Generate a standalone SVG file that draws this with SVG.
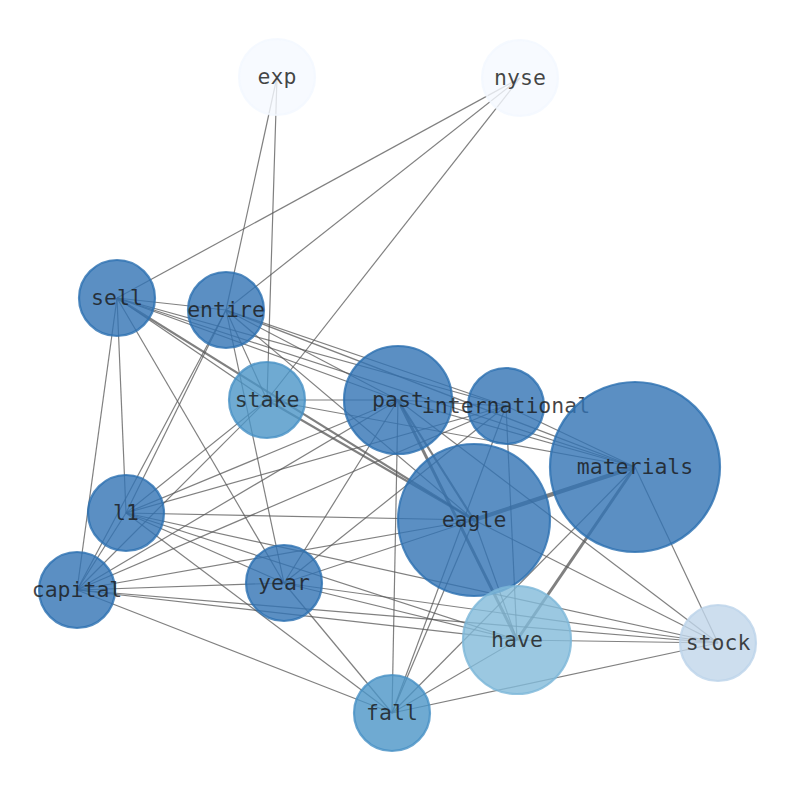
<svg xmlns="http://www.w3.org/2000/svg" width="794" height="790" viewBox="0 0 794 790">
<style>
.e{stroke:#555;stroke-opacity:0.75;stroke-width:1.2;fill:none}
.w2{stroke-width:2.2}
.w3{stroke-width:3}
.w4{stroke-width:4.2}
.n circle{stroke-width:2.2;fill-opacity:0.8;stroke-opacity:0.8}
.dk{fill:#3273b4;stroke:#2a6fb0}
.md{fill:#4b95c7;stroke:#4690c4}
.lt{fill:#82bad9;stroke:#7cb6d8}
.vl{fill:#c1d6ea;stroke:#bcd3ea}
.xl{fill:#f5f9ff;stroke:#f3f8ff}
text{font-family:"DejaVu Sans Mono","Liberation Mono",monospace;font-size:21.5px;fill:#1a1a1a;fill-opacity:0.82;text-anchor:middle;dominant-baseline:central}
</style>
<rect width="794" height="790" fill="#fff"/>
<g id="edges">
<line class="e" x1="277" y1="77" x2="226" y2="310"/>
<line class="e" x1="277" y1="77" x2="267" y2="400"/>
<line class="e" x1="520" y1="78" x2="117" y2="298"/>
<line class="e" x1="520" y1="78" x2="226" y2="310"/>
<line class="e" x1="520" y1="78" x2="267" y2="400"/>
<line class="e" x1="117" y1="298" x2="226" y2="310"/>
<line class="e" x1="117" y1="298" x2="267" y2="400"/>
<line class="e" x1="117" y1="298" x2="398" y2="400"/>
<line class="e" x1="117" y1="298" x2="506" y2="406"/>
<line class="e" x1="117" y1="298" x2="635" y2="467"/>
<line class="e w2" x1="117" y1="298" x2="474" y2="520"/>
<line class="e" x1="117" y1="298" x2="126" y2="513"/>
<line class="e" x1="117" y1="298" x2="77" y2="590"/>
<line class="e" x1="117" y1="298" x2="284" y2="583"/>
<line class="e" x1="226" y1="310" x2="267" y2="400"/>
<line class="e" x1="226" y1="310" x2="398" y2="400"/>
<line class="e" x1="226" y1="310" x2="506" y2="406"/>
<line class="e" x1="226" y1="310" x2="635" y2="467"/>
<line class="e" x1="226" y1="310" x2="474" y2="520"/>
<line class="e" x1="226" y1="310" x2="126" y2="513"/>
<line class="e" x1="226" y1="310" x2="77" y2="590"/>
<line class="e" x1="226" y1="310" x2="284" y2="583"/>
<line class="e" x1="267" y1="400" x2="398" y2="400"/>
<line class="e w2" x1="267" y1="400" x2="474" y2="520"/>
<line class="e" x1="267" y1="400" x2="126" y2="513"/>
<line class="e" x1="267" y1="400" x2="77" y2="590"/>
<line class="e" x1="267" y1="400" x2="635" y2="467"/>
<line class="e" x1="398" y1="400" x2="506" y2="406"/>
<line class="e w2" x1="398" y1="400" x2="474" y2="520"/>
<line class="e w3" x1="398" y1="400" x2="517" y2="640"/>
<line class="e" x1="398" y1="400" x2="635" y2="467"/>
<line class="e" x1="398" y1="400" x2="126" y2="513"/>
<line class="e" x1="398" y1="400" x2="77" y2="590"/>
<line class="e" x1="398" y1="400" x2="284" y2="583"/>
<line class="e" x1="398" y1="400" x2="392" y2="713"/>
<line class="e" x1="398" y1="400" x2="718" y2="643"/>
<line class="e" x1="506" y1="406" x2="635" y2="467"/>
<line class="e" x1="506" y1="406" x2="126" y2="513"/>
<line class="e" x1="506" y1="406" x2="77" y2="590"/>
<line class="e" x1="506" y1="406" x2="284" y2="583"/>
<line class="e" x1="506" y1="406" x2="392" y2="713"/>
<line class="e" x1="506" y1="406" x2="517" y2="640"/>
<line class="e w4" x1="635" y1="467" x2="474" y2="520"/>
<line class="e w3" x1="635" y1="467" x2="517" y2="640"/>
<line class="e" x1="635" y1="467" x2="718" y2="643"/>
<line class="e" x1="635" y1="467" x2="392" y2="713"/>
<line class="e" x1="474" y1="520" x2="126" y2="513"/>
<line class="e" x1="474" y1="520" x2="77" y2="590"/>
<line class="e" x1="474" y1="520" x2="284" y2="583"/>
<line class="e" x1="474" y1="520" x2="392" y2="713"/>
<line class="e" x1="474" y1="520" x2="718" y2="643"/>
<line class="e" x1="474" y1="520" x2="517" y2="640"/>
<line class="e" x1="126" y1="513" x2="77" y2="590"/>
<line class="e" x1="126" y1="513" x2="284" y2="583"/>
<line class="e" x1="126" y1="513" x2="517" y2="640"/>
<line class="e" x1="126" y1="513" x2="718" y2="643"/>
<line class="e" x1="126" y1="513" x2="392" y2="713"/>
<line class="e" x1="77" y1="590" x2="284" y2="583"/>
<line class="e" x1="77" y1="590" x2="517" y2="640"/>
<line class="e" x1="77" y1="590" x2="718" y2="643"/>
<line class="e" x1="77" y1="590" x2="392" y2="713"/>
<line class="e" x1="284" y1="583" x2="517" y2="640"/>
<line class="e" x1="284" y1="583" x2="718" y2="643"/>
<line class="e" x1="284" y1="583" x2="392" y2="713"/>
<line class="e" x1="517" y1="640" x2="718" y2="643"/>
<line class="e" x1="517" y1="640" x2="392" y2="713"/>
<line class="e" x1="718" y1="643" x2="392" y2="713"/>
</g>
<g id="node-exp" class="n"><circle class="xl" cx="277" cy="77" r="38"/><text x="277" y="76">exp</text></g>
<g id="node-nyse" class="n"><circle class="xl" cx="520" cy="78" r="38"/><text x="520" y="77">nyse</text></g>
<g id="node-sell" class="n"><circle class="dk" cx="117" cy="298" r="38"/><text x="117" y="297">sell</text></g>
<g id="node-entire" class="n"><circle class="dk" cx="226" cy="310" r="38"/><text x="226" y="309">entire</text></g>
<g id="node-stake" class="n"><circle class="md" cx="267" cy="400" r="38"/><text x="267" y="399">stake</text></g>
<g id="node-past" class="n"><circle class="dk" cx="398" cy="400" r="54"/><text x="398" y="399">past</text></g>
<g id="node-international" class="n"><circle class="dk" cx="506" cy="406" r="38"/><text x="506" y="405">international</text></g>
<g id="node-materials" class="n"><circle class="dk" cx="635" cy="467" r="85"/><text x="635" y="466">materials</text></g>
<g id="node-eagle" class="n"><circle class="dk" cx="474" cy="520" r="76"/><text x="474" y="519">eagle</text></g>
<g id="node-l1" class="n"><circle class="dk" cx="126" cy="513" r="38"/><text x="126" y="512">l1</text></g>
<g id="node-capital" class="n"><circle class="dk" cx="77" cy="590" r="38"/><text x="77" y="589">capital</text></g>
<g id="node-year" class="n"><circle class="dk" cx="284" cy="583" r="38"/><text x="284" y="582">year</text></g>
<g id="node-have" class="n"><circle class="lt" cx="517" cy="640" r="54"/><text x="517" y="639">have</text></g>
<g id="node-stock" class="n"><circle class="vl" cx="718" cy="643" r="38"/><text x="718" y="642">stock</text></g>
<g id="node-fall" class="n"><circle class="md" cx="392" cy="713" r="38"/><text x="392" y="712">fall</text></g>
</svg>
